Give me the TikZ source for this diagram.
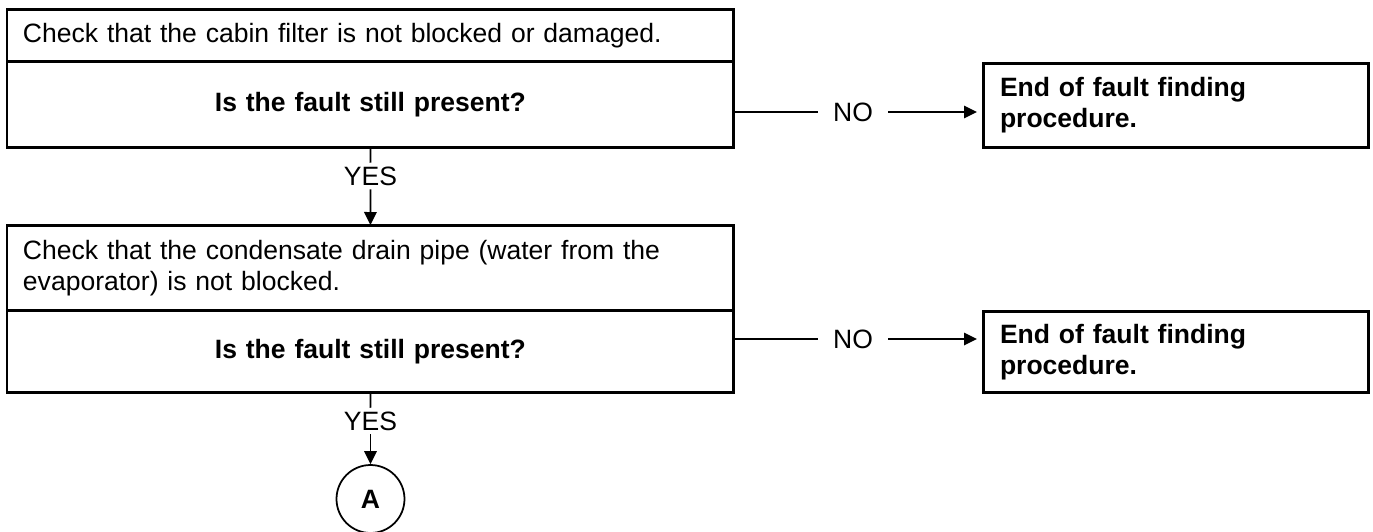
\documentclass[tikz,border=0pt]{standalone}
\usepackage{fontspec}
\setmainfont{Liberation Sans}
\usetikzlibrary{arrows.meta,positioning}

\begin{document}
\begin{tikzpicture}[
        x=0.02cm, y=-0.02cm,
        every node/.style={font=\fontsize{15.1pt}{17.6pt}\selectfont},
        checkbox/.style={draw, line width=0.06cm, outer sep=0pt, minimum width=14.54cm, text width=13.9cm,
            align=left, inner xsep=0.32cm, inner ysep=0pt},
        askbox/.style={draw, line width=0.06cm, outer sep=0pt, minimum width=14.54cm, text width=13.9cm,
            align=center, inner xsep=0.32cm, inner ysep=0pt, font=\fontsize{15.1pt}{17.6pt}\selectfont\bfseries},
        endbox/.style={draw, line width=0.06cm, outer sep=0pt, minimum width=7.72cm, text width=7.04cm,
            align=left, inner xsep=0.34cm, inner ysep=0pt, font=\fontsize{15.1pt}{17.6pt}\selectfont\bfseries},
        answer/.style={inner xsep=0.3cm, inner ysep=2pt},
        link/.style={line width=0.035cm},
        arrowlink/.style={link, -{Triangle[length=0.26cm, width=0.25cm]}}
    ]
        \useasboundingbox (0,0) rectangle (1373,531);

        \node[checkbox, minimum height=1.06cm, anchor=north west] (c1) at (7,9)
            {Check that the cabin filter is not blocked or damaged.};
        \node[askbox, minimum height=1.72cm, below=0pt of c1] (q1) {Is the fault still present?};
        \node[endbox, minimum height=1.7cm, anchor=north west] (e1) at (983,63)
            {End of fault finding\\procedure.};

        \node[checkbox, minimum height=1.72cm, anchor=north west] (c2) at (7,225)
            {Check that the condensate drain pipe (water from the\\evaporator) is not blocked.};
        \node[askbox, minimum height=1.64cm, below=0pt of c2] (q2) {Is the fault still present?};
        \node[endbox, minimum height=1.64cm, anchor=north west] (e2) at (983,311)
            {End of fault finding\\procedure.};

        \node[circle, draw, line width=0.035cm, minimum size=1.36cm, inner sep=0pt,
            font=\fontsize{15.1pt}{17.6pt}\selectfont\bfseries] (a) at (370.5,499) {A};

        \node[answer] (n1) at (853,112) {NO};
        \node[answer] (n2) at (853,339) {NO};
        \node[answer, inner xsep=1pt] (y1) at (370.5,176) {YES};
        \node[answer, inner xsep=1pt] (y2) at (370.5,421) {YES};

        \draw[link] (q1.east |- n1) -- (n1);
        \draw[arrowlink, shorten >=0.12cm] (n1) -- (e1.west |- n1);
        \draw[link] (q2.east |- n2) -- (n2);
        \draw[arrowlink, shorten >=0.12cm] (n2) -- (e2.west |- n2);

        \draw[link] (q1.south) -- (y1.north);
        \draw[arrowlink] (y1.south) -- (c2.north);
        \draw[link] (q2.south) -- (y2.north);
        \draw[arrowlink] (y2.south) -- (a.north);
    \end{tikzpicture}
\end{document}
